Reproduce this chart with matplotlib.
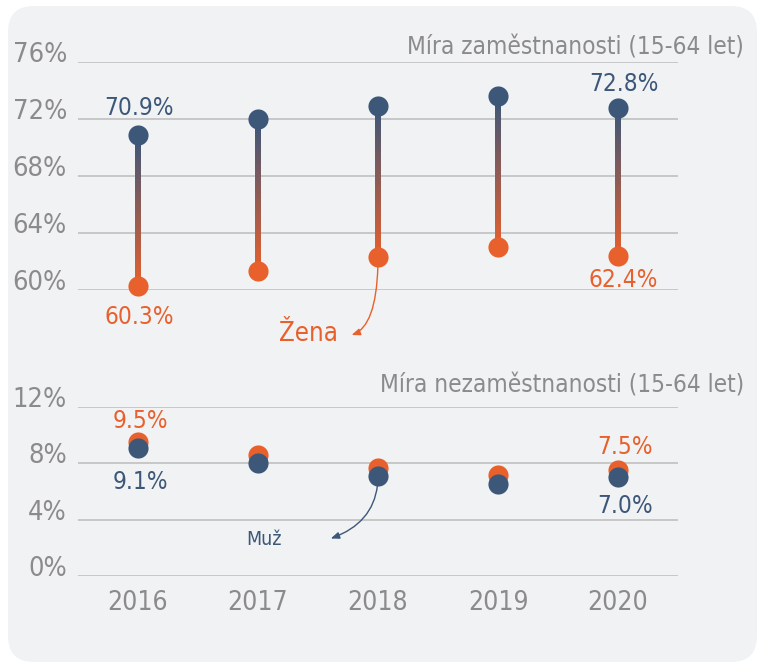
import numpy as np
import matplotlib
matplotlib.use("Agg")
import matplotlib.pyplot as plt
from matplotlib.collections import LineCollection
from matplotlib.patches import FancyBboxPatch
from matplotlib.transforms import IdentityTransform
from matplotlib import font_manager
from matplotlib.colors import to_rgb

# ---------------- data ----------------
years = [2016, 2017, 2018, 2019, 2020]
emp_men = [70.9, 72.0, 72.9, 73.6, 72.8]
emp_women = [60.3, 61.3, 62.3, 63.0, 62.4]
unemp_men = [9.1, 8.0, 7.1, 6.5, 7.0]
unemp_women = [9.5, 8.6, 7.7, 7.2, 7.5]
emp_ticks = [60, 64, 68, 72, 76]
unemp_ticks = [0, 4, 8, 12]
title_emp = "Míra zaměstnanosti (15-64 let)"
title_unemp = "Míra nezaměstnanosti (15-64 let)"
label_women = "Žena"
label_men = "Muž"

# ---------------- style ----------------
BLUE = "#3D5779"
ORANGE = "#E8602C"
GRAY = "#8B8B8B"
GRID = "#C4C4C4"
BG = "#F1F2F4"

# look for a condensed / narrow face
cand = []
for f in font_manager.fontManager.ttflist:
    nm = (f.name + " " + f.fname).lower()
    if ("narrow" in nm or "condensed" in nm or str(f.stretch) in ("condensed", "semi-condensed",
                                                                   "extra-condensed")) \
            and "bold" not in f.fname.lower() and "italic" not in f.fname.lower() \
            and "oblique" not in f.fname.lower() and "mono" not in nm and "serif" not in nm:
        cand.append(f)
FP = font_manager.FontProperties(fname=cand[0].fname) if cand else \
    font_manager.FontProperties(family="Liberation Sans")

plt.rcParams["font.family"] = [FP.get_name(), "DejaVu Sans"]

W, H = 763, 664
fig = plt.figure(figsize=(W / 100, H / 100), dpi=100)
fig.patch.set_facecolor("white")

bg = FancyBboxPatch((8, 2), 749, 656, boxstyle="round,pad=0,rounding_size=26",
                    transform=IdentityTransform(), facecolor=BG, edgecolor="none", zorder=-10)
fig.patches.append(bg)

def px_axes(x0, y_top, x1, y_bot):
    return fig.add_axes([x0 / W, 1 - y_bot / H, (x1 - x0) / W, (y_bot - y_top) / H])

ax1 = px_axes(78, 62, 678, 290)
ax2 = px_axes(78, 407, 678, 576)

def fp(size):
    p = FP.copy()
    p.set_size(size)
    return p

for ax, ticks in ((ax1, emp_ticks), (ax2, unemp_ticks)):
    ax.set_facecolor("none")
    ax.set_xlim(years[0] - 0.5, years[-1] + 0.5)
    ax.set_ylim(ticks[0], ticks[-1])
    ax.set_yticks(ticks)
    ax.set_yticklabels([f"{t}%" for t in ticks], fontproperties=fp(19.5))
    for s in ax.spines.values():
        s.set_visible(False)
    ax.grid(axis="y", color=GRID, lw=1.3)
    ax.set_axisbelow(True)
    ax.tick_params(axis="y", length=0, pad=8, labelcolor=GRAY)
    for t in ax.yaxis.get_major_ticks():
        t.label1.set_va("baseline")

ax1.set_xticks([])
ax2.set_xticks(years)
ax2.set_xticklabels([str(y) for y in years], fontproperties=fp(19))
ax2.tick_params(axis="x", length=0, pad=10, labelcolor=GRAY)

# ---------------- top: gradient dumbbells ----------------
c_top = np.array(to_rgb(BLUE))
c_bot = np.array(to_rgb(ORANGE))
n = 80
for x, lo, hi in zip(years, emp_women, emp_men):
    ys = np.linspace(lo, hi, n + 1)
    segs = [[(x, ys[i]), (x, ys[i + 1])] for i in range(n)]
    t = np.linspace(0, 1, n)
    cols = [tuple(c_bot * (1 - k) + c_top * k) for k in t]
    lc = LineCollection(segs, colors=cols, linewidths=4, capstyle="projecting",
                        antialiaseds=False, zorder=2)
    ax1.add_collection(lc)
ax1.plot(years, emp_men, "o", color=BLUE, ms=14.5, mew=0, zorder=3, clip_on=False)
ax1.plot(years, emp_women, "o", color=ORANGE, ms=14.5, mew=0, zorder=3, clip_on=False)

# ---------------- bottom: overlapping dots ----------------
ax2.plot(years, unemp_women, "o", color=ORANGE, ms=14.5, mew=0, zorder=3, clip_on=False)
ax2.plot(years, unemp_men, "o", color=BLUE, ms=14.5, mew=0, zorder=4, clip_on=False)

# ---------------- value labels ----------------
def vlabel(ax, x, v, color, dx, dy, va):
    ax.annotate(f"{v:.1f}%", xy=(x, v), xytext=(dx, dy), textcoords="offset points",
                ha="center", va=va, color=color, fontproperties=fp(17.5), zorder=5)

vlabel(ax1, years[0], emp_men[0], BLUE, 1, 14, "baseline")
vlabel(ax1, years[-1], emp_men[-1], BLUE, 4, 12, "baseline")
vlabel(ax1, years[0], emp_women[0], ORANGE, 1, -14, "top")
vlabel(ax1, years[-1], emp_women[-1], ORANGE, 4, -9, "top")
vlabel(ax2, years[0], unemp_women[0], ORANGE, 2, 10, "baseline")
vlabel(ax2, years[-1], unemp_women[-1], ORANGE, 5, 12, "baseline")
vlabel(ax2, years[0], unemp_men[0], BLUE, 2, -16, "top")
vlabel(ax2, years[-1], unemp_men[-1], BLUE, 5, -12, "top")

# ---------------- annotations ----------------
ax1.annotate("", xy=(years[2], emp_women[2]), xytext=(-19, -56), textcoords="offset points",
             arrowprops=dict(arrowstyle="<|-,head_length=0.5,head_width=0.2", color=ORANGE, lw=1,
                             shrinkA=0, shrinkB=7,
                             connectionstyle="angle3,angleA=20,angleB=90"))
ax1.annotate(label_women, xy=(years[2], emp_women[2]), xytext=(-50, -55), textcoords="offset points",
             ha="center", va="center", color=ORANGE, fontproperties=fp(18.5))

ax2.annotate("", xy=(years[2], unemp_men[2]), xytext=(-34, -45), textcoords="offset points",
             arrowprops=dict(arrowstyle="<|-,head_length=0.5,head_width=0.2", color=BLUE, lw=1,
                             shrinkA=0, shrinkB=7,
                             connectionstyle="angle3,angleA=20,angleB=90"))
ax2.annotate(label_men, xy=(years[2], unemp_men[2]), xytext=(-82, -46), textcoords="offset points",
             ha="center", va="center", color=BLUE, fontproperties=fp(14))

# ---------------- titles ----------------
fig.text(744 / W, 1 - 55 / H, title_emp, ha="right", va="baseline", color=GRAY, fontproperties=fp(17.5))
fig.text(744 / W, 1 - 392 / H, title_unemp, ha="right", va="baseline", color=GRAY, fontproperties=fp(17.5))

fig.savefig("out.png", dpi=100, facecolor=fig.get_facecolor())
